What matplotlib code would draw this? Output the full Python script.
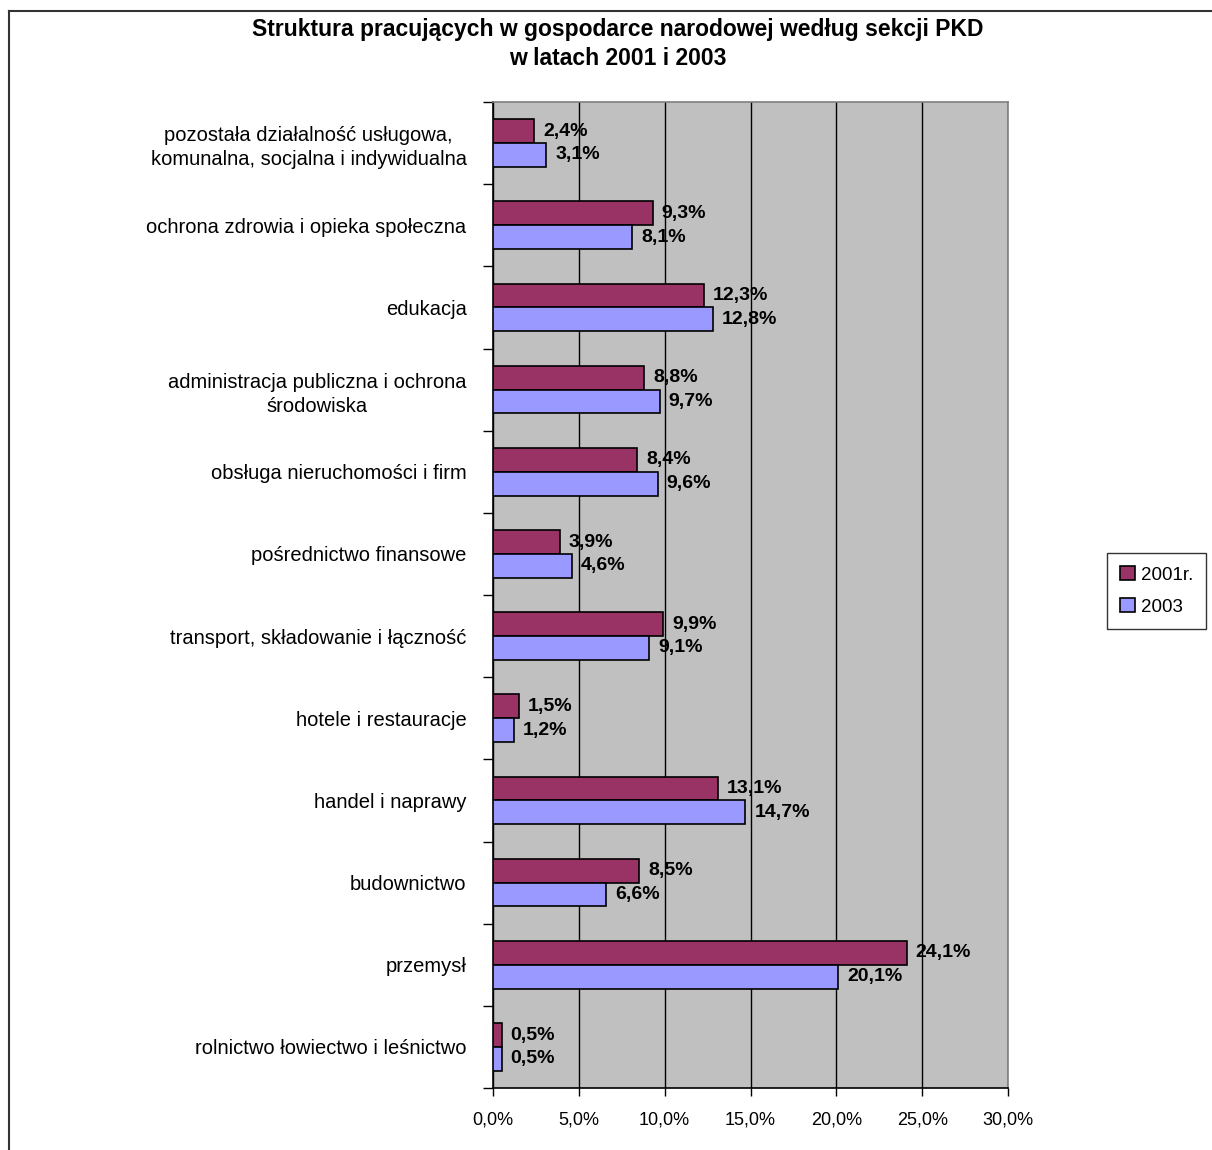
import matplotlib
matplotlib.use("Agg")
import matplotlib.pyplot as plt
from matplotlib.patches import Patch
from matplotlib.lines import Line2D
from matplotlib.ticker import FixedLocator, FuncFormatter
import numpy as np

plt.rcParams['font.family'] = ['Liberation Sans', 'DejaVu Sans']

categories = [
    "pozostała działalność usługowa,\nkomunalna, socjalna i indywidualna",
    "ochrona zdrowia i opieka społeczna",
    "edukacja",
    "administracja publiczna i ochrona\nśrodowiska",
    "obsługa nieruchomości i firm",
    "pośrednictwo finansowe",
    "transport, składowanie i łączność",
    "hotele i restauracje",
    "handel i naprawy",
    "budownictwo",
    "przemysł",
    "rolnictwo łowiectwo i leśnictwo",
]
values_2001 = [2.4, 9.3, 12.3, 8.8, 8.4, 3.9, 9.9, 1.5, 13.1, 8.5, 24.1, 0.5]
values_2003 = [3.1, 8.1, 12.8, 9.7, 9.6, 4.6, 9.1, 1.2, 14.7, 6.6, 20.1, 0.5]
series_names = ["2001r.", "2003"]
x_ticks = [0, 5, 10, 15, 20, 25, 30]
title = "Struktura pracujących w gospodarce narodowej według sekcji PKD\nw latach 2001 i 2003"

c2001 = "#993366"
c2003 = "#9999FF"

W, H = 1212, 1150
fig = plt.figure(figsize=(W / 100, H / 100), dpi=100)
fig.patch.set_facecolor("white")

ax = fig.add_axes([493 / W, 1 - 1088 / H, (1008 - 493) / W, (1088 - 102) / H])
ax.set_facecolor("#C0C0C0")

y = np.arange(len(categories))
bh = 0.29
b1 = ax.barh(y - bh / 2, values_2001, height=bh, color=c2001, edgecolor="black", linewidth=1.2, zorder=3)
b2 = ax.barh(y + bh / 2, values_2003, height=bh, color=c2003, edgecolor="black", linewidth=1.2, zorder=3)

def fmt(v):
    return f"{v:.1f}".replace(".", ",") + "%"

for bars, vals in ((b1, values_2001), (b2, values_2003)):
    for rect, v in zip(bars, vals):
        ax.annotate(fmt(v), xy=(v, rect.get_y() + rect.get_height() / 2),
                    xytext=(9, 0), textcoords="offset pixels",
                    ha="left", va="center", fontsize=14, fontweight="bold", zorder=5)

ax.set_xlim(0, 30)
ax.set_ylim(len(categories) - 0.5, -0.5)
ax.xaxis.set_major_locator(FixedLocator(x_ticks))
ax.xaxis.set_major_formatter(FuncFormatter(lambda v, p: f"{v:.1f}".replace(".", ",") + "%"))
ax.grid(axis="x", color="black", linewidth=1.0, zorder=1)
ax.set_axisbelow(True)

ax.set_yticks(y)
ax.set_yticklabels(categories, fontsize=14.5, multialignment="center", linespacing=1.35)
ax.set_yticks(np.arange(-0.5, len(categories), 1.0), minor=True)
ax.tick_params(axis="y", which="major", length=0, pad=19)
ax.tick_params(axis="y", which="minor", length=7, width=1, direction="out")
ax.tick_params(axis="x", which="major", length=6, width=1, direction="out", labelsize=13, pad=11)

for side in ("left", "bottom"):
    ax.spines[side].set_color("black")
    ax.spines[side].set_linewidth(1.2)
for side in ("right", "top"):
    ax.spines[side].set_color("#808080")
    ax.spines[side].set_linewidth(1.2)

fig.text(0.51, 1 - 44 / H, title, ha="center", va="center", fontsize=16.5, fontweight="bold", linespacing=1.3)

handles = [Patch(facecolor=c2001, edgecolor="black", linewidth=1.2),
           Patch(facecolor=c2003, edgecolor="black", linewidth=1.2)]
leg = fig.legend(handles, series_names, loc="upper left", bbox_to_anchor=(1107 / W, 1 - 553 / H),
                 fontsize=13.5, frameon=True, fancybox=False, handlelength=0.8, handleheight=0.8,
                 handletextpad=0.3, borderpad=0.7, labelspacing=0.75, borderaxespad=0)
leg.get_frame().set_edgecolor("black")
leg.get_frame().set_linewidth(1.0)

fig.add_artist(Line2D([9 / W, 9 / W], [0, 1 - 11 / H], color="#333333", linewidth=1.5, transform=fig.transFigure))
fig.add_artist(Line2D([9 / W, 1], [1 - 11 / H, 1 - 11 / H], color="#333333", linewidth=1.5, transform=fig.transFigure))

fig.savefig("out.png", dpi=100)
